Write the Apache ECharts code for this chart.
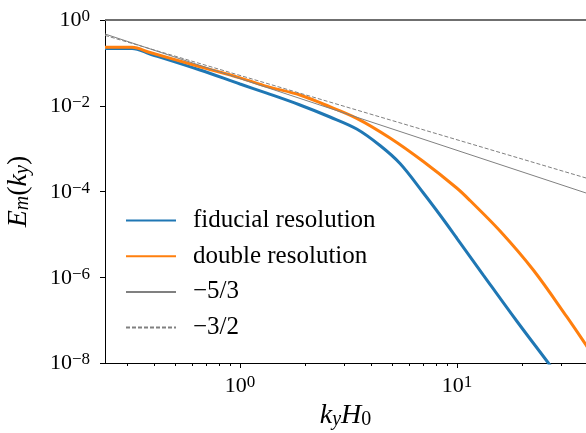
<!DOCTYPE html>
<html><head><meta charset="utf-8">
<script src="https://cdn.jsdelivr.net/npm/echarts@6/dist/echarts.min.js"></script>
<style>html,body{margin:0;padding:0;background:#fff}#c{width:586px;height:433px}</style>
</head><body><div id="c"></div>
<script>
// ---- data ----
const kFiducial = [0.2387, 0.3179, 0.3848, 0.654, 1.0, 1.328, 1.890, 2.598, 3.450, 4.418, 5.462, 6.970, 8.350, 9.968, 13.22, 18.84, 26.35, 29.84];
const eFiducial = [0.2164, 0.2164, 0.1611, 0.06821, 0.03215, 0.01968, 0.01041, 5.465e-3, 2.868e-3, 1.183e-3, 4.498e-4, 9.48e-5, 2.830e-5, 8.23e-6, 1.128e-6, 9.54e-8, 1.0e-8, 4.23e-9];
const kDouble = [0.2387, 0.3179, 0.3848, 0.654, 1.0, 1.328, 1.890, 2.413, 3.450, 4.912, 6.97, 9.968, 11.48, 15.79, 22.47, 32.03, 39.30, 45.60];
const eDouble = [0.2309, 0.2309, 0.1746, 0.0814, 0.0447, 0.0283, 0.01781, 0.01098, 5.097e-3, 1.769e-3, 5.06e-4, 1.207e-4, 6.166e-5, 1.199e-5, 1.476e-6, 1.202e-7, 2.629e-8, 8.51e-9];
const kSlope53 = [0.2387, 39.3];
const eSlope53 = [0.4715, 9.23e-5];
const kSlope32 = [0.2387, 39.3];
const eSlope32 = [0.4375, 2.065e-4];
const seriesNames = ['fiducial resolution', 'double resolution', '\u22125/3', '\u22123/2'];
const xRange = [0.2387, 39.3];
const yRange = [1e-8, 1];
const xMajorTicks = [1, 10];
const xMinorTicks = [0.3, 0.4, 0.5, 0.6, 0.7, 0.8, 0.9, 2, 3, 4, 5, 6, 7, 8, 9, 20, 30];
const yMajorTicks = [1e-8, 1e-6, 1e-4, 1e-2, 1];

const FONT = 'Liberation Serif';
const pairs = (ks, es) => ks.map((k, i) => [k, es[i]]);
const supRich = {
  b: {fontFamily: FONT, fontSize: 22, lineHeight: 23, color: '#000', padding: [2, 0, 0, 0], verticalAlign: 'bottom'},
  s: {fontFamily: FONT, fontSize: 17, lineHeight: 17, color: '#000', verticalAlign: 'top'}
};
const mathRich = {
  i: {fontFamily: FONT, fontStyle: 'italic', fontSize: 28, lineHeight: 28, color: '#000', padding: [0, 0, 6, 0], verticalAlign: 'top'},
  n: {fontFamily: FONT, fontSize: 28, lineHeight: 28, color: '#000', padding: [0, 0, 6, 0], verticalAlign: 'top'},
  sub: {fontFamily: FONT, fontStyle: 'italic', fontSize: 20, lineHeight: 20, color: '#000', verticalAlign: 'bottom'},
  subn: {fontFamily: FONT, fontSize: 20, lineHeight: 20, color: '#000', verticalAlign: 'bottom'}
};
function powLabel(v, every) {
  const l = Math.log10(v);
  const p = Math.round(l);
  if (Math.abs(l - p) > 1e-6) return '';
  if (p % every !== 0) return '';
  const ps = p < 0 ? '\u2212' + (-p) : String(p);
  return '{b|10}{s|' + ps + '}';
}

const chart = echarts.init(document.getElementById('c'), null, {renderer: 'canvas'});
chart.setOption({
  animation: false,
  backgroundColor: '#fff',
  grid: {left: 105, right: 0, top: 20, bottom: 70, containLabel: false, outerBoundsMode: 'none'},
  xAxis: {
    type: 'log', logBase: 10, min: xRange[0], max: xRange[1],
    axisLine: {show: true, lineStyle: {color: '#000', width: 1}},
    axisTick: {show: false},
    splitLine: {show: false},
    minorTick: {show: false},
    axisLabel: {margin: 11, formatter: v => powLabel(v, 1), rich: supRich},
    name: '{i|k}{sub|y}{i|H}{subn|0}', nameLocation: 'middle', nameGap: 34,
    nameTextStyle: {rich: mathRich}
  },
  yAxis: {
    type: 'log', logBase: 10, min: yRange[0], max: yRange[1],
    axisLine: {show: true, lineStyle: {color: '#000', width: 1}},
    axisTick: {show: false},
    splitLine: {show: false},
    axisLabel: {margin: 15, formatter: v => powLabel(v, 2), rich: supRich},
    name: '{i|E}{sub|m}{n|(}{i|k}{sub|y}{n|)}', nameLocation: 'middle', nameGap: 69, nameRotate: 90,
    nameTextStyle: {rich: mathRich}
  },
  legend: {
    data: seriesNames, orient: 'vertical', left: 125, top: 207, padding: 0,
    itemWidth: 50, itemHeight: 14, itemGap: 8.7,
    itemStyle: {opacity: 0, borderWidth: 0},
    textStyle: {fontFamily: FONT, fontSize: 25, color: '#000', padding: [0, 0, 0, 12], lineHeight: 27}
  },
  series: [
    {name: seriesNames[0], type: 'line', data: pairs(kFiducial, eFiducial), symbol: 'none', showSymbol: false,
     smooth: 0.35, lineStyle: {color: '#1f77b4', width: 3}, itemStyle: {color: '#1f77b4'}, z: 2},
    {name: seriesNames[1], type: 'line', data: pairs(kDouble, eDouble), symbol: 'none', showSymbol: false,
     smooth: 0.35, lineStyle: {color: '#ff7f0e', width: 3}, itemStyle: {color: '#ff7f0e'}, z: 3},
    {name: seriesNames[2], type: 'line', data: pairs(kSlope53, eSlope53), symbol: 'none', showSymbol: false,
     lineStyle: {color: '#808080', width: 1}, itemStyle: {color: '#808080'}, z: 4},
    {name: seriesNames[3], type: 'line', data: pairs(kSlope32, eSlope32), symbol: 'none', showSymbol: false,
     lineStyle: {color: '#808080', width: 1, type: [4, 2]}, itemStyle: {color: '#808080'}, z: 4}
  ]
});

// ticks and top spine, placed through the chart's own scales
const xp = v => chart.convertToPixel({xAxisIndex: 0}, v);
const yp = v => chart.convertToPixel({yAxisIndex: 0}, v);
const yBottom = Math.round(yp(yRange[0]));
const yTop = Math.round(yp(yRange[1]));
const xLeft = Math.round(xp(xRange[0]));
const xRight = Math.round(xp(xRange[1]));
const g = [];
const tick = (x1, y1, x2, y2) => g.push({type: 'line', silent: true, z: 10,
  shape: {x1, y1, x2, y2}, style: {stroke: '#000', lineWidth: 1}});
xMajorTicks.forEach(v => { const x = Math.round(xp(v)) + 0.5; tick(x, yBottom, x, yBottom + 5); });
xMinorTicks.forEach(v => { const x = Math.round(xp(v)) + 0.5; tick(x, yBottom, x, yBottom + 3); });
yMajorTicks.forEach(v => { const y = Math.round(yp(v)) + 0.5; tick(xLeft, y, xLeft - 5, y); });
g.push({type: 'line', silent: true, z: 10, shape: {x1: xLeft, y1: yTop, x2: xRight, y2: yTop},
  style: {stroke: '#6f6f6f', lineWidth: 2}});
chart.setOption({graphic: g});
</script>
</body></html>
